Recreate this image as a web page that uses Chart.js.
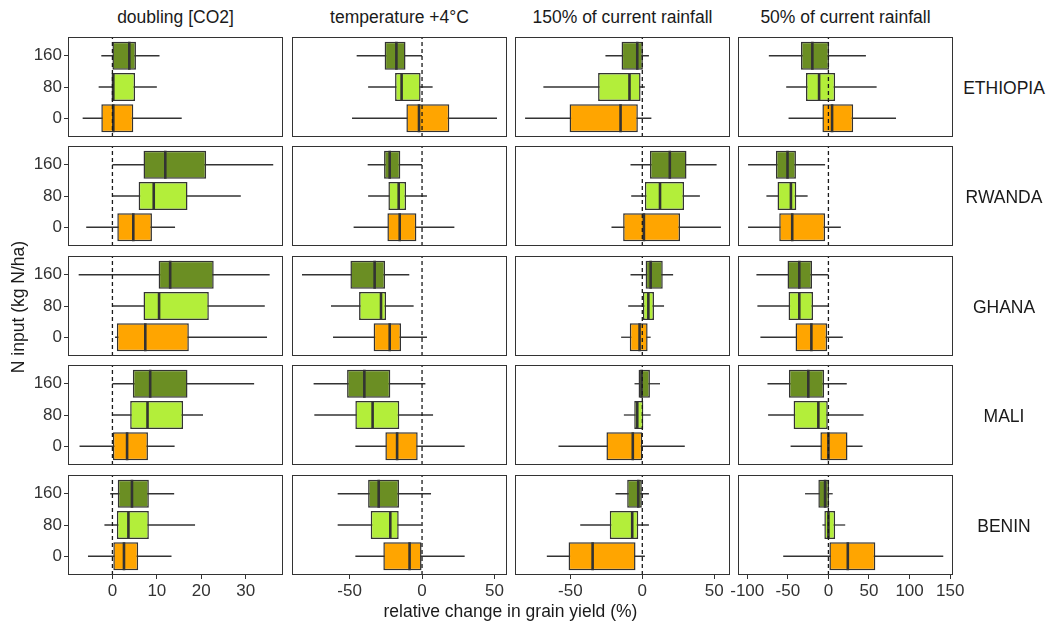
<!DOCTYPE html>
<html>
<head>
<meta charset="utf-8">
<script src="https://cdn.jsdelivr.net/npm/chart.js"></script>
<style>
  body { margin: 0; background: #fff; }
  #wrap { position: relative; width: 1050px; height: 627px; overflow: hidden;
          font-family: "Liberation Sans", Arial, sans-serif; color: #1a1a1a; }
  canvas { position: absolute; }
  .lbl { position: absolute; font-size: 17.5px; line-height: 20px; white-space: nowrap; text-align: center; }
</style>
</head>
<body>
<div id="wrap"></div>
<script>
// facets
const scenarios = ['doubling [CO2]', 'temperature +4°C', '150% of current rainfall', '50% of current rainfall'];
const countries = ['ETHIOPIA', 'RWANDA', 'GHANA', 'MALI', 'BENIN'];
const nLevels = ['0', '80', '160'];
const nColors = ['#FFA500', '#B3EE3A', '#6B8E23'];

// x ticks and limits per scenario column
const xTicks = [[0, 10, 20, 30], [-50, 0, 50], [-50, 0, 50], [-100, -50, 0, 50, 100, 150]];
const xLimits = [[-10, 38.4], [-89.7, 58.6], [-88.4, 60.9], [-111.4, 153.5]];

// box stats [whiskerLow, q1, median, q3, whiskerHigh], per scenario, rows for N = 0, 80, 160
const ethiopia = [
  [[-6.7, -2.5, 0.2, 4.7, 15.6], [-3.1, -0.2, 0.2, 5.1, 10], [-2.5, 0, 3.8, 5.3, 10.6]],
  [[-48.3, -10.8, -2.1, 18.8, 51.7], [-37.2, -18.6, -14.1, -1, 7.3], [-45.1, -25.8, -17.7, -11.4, 0]],
  [[-81.4, -50.5, -15.1, -3.1, 6.3], [-68.7, -30.7, -8.9, -1.2, 1.8], [-25.6, -14.4, -3.5, 0.4, 4.6]],
  [[-49.1, -7.4, 4.5, 30.5, 83.3], [-52, -27.6, -11.5, 8.3, 59.4], [-73.4, -33.8, -19.8, 0.8, 46.2]]
];
const rwanda = [
  [[-5.9, 1.1, 4.7, 8.9, 14.1], [0, 5.9, 9.3, 16.9, 28.9], [0, 7, 11.9, 21.1, 36.2]],
  [[-47.2, -23.9, -15.4, -3.9, 22.3], [-37.2, -23.2, -16.1, -11, 3.4], [-37.5, -26.2, -22.3, -15, 0]],
  [[-21.4, -13.3, 1.1, 26.2, 54.6], [-7.7, 1.8, 12.3, 29, 40], [-8.2, 5.3, 19.1, 30.7, 51.6]],
  [[-99, -60.6, -44.6, -4.1, 15.3], [-76.4, -62.7, -46.2, -39.6, -25.6], [-99, -64.7, -50.4, -40, -4.1]]
];
const ghana = [
  [[0.6, 1, 7.4, 17.2, 34.8], [0, 7, 10.5, 21.7, 34.3], [-7.6, 10.4, 13, 22.8, 35.4]],
  [[-61.4, -33.4, -22.3, -14.5, 3.4], [-62.8, -43.4, -28.3, -24.8, -5.8], [-82.8, -49.4, -32.7, -25.5, -8.8]],
  [[-14.7, -8.7, -1.9, 3.7, 5.8], [-9.8, 0.4, 4.2, 8.1, 15.1], [-8.2, 2.3, 5.8, 14.2, 21.4]],
  [[-83.8, -40.5, -21, -1.6, 17.7], [-87.5, -49.1, -35.9, -19, 0], [-88.7, -50.4, -35.9, -20.2, 0]]
];
const mali = [
  [[-7.4, 0.1, 3.3, 8, 14], [0, 4, 7.9, 15.9, 20.4], [0, 4.6, 8.5, 16.9, 31.9]],
  [[-46, -25.3, -17.2, -3, 29.4], [-74.3, -46, -34.1, -15.7, 7.6], [-74.8, -51.7, -39.8, -21.9, 2.3]],
  [[-58.2, -24.9, -6.6, 0, 29.5], [-12.8, -5.6, -3.5, 0.7, 5.8], [-5.4, -2.6, -0.5, 5.3, 12.3]],
  [[-46.6, -9.9, 0, 23.5, 42.1], [-74.3, -42.9, -12.4, -0.8, 43.3], [-75.1, -48.7, -24.8, -5.3, 22.6]]
];
const benin = [
  [[-5.5, 0.2, 2.6, 5.8, 13.3], [-1.8, 1, 3.6, 8.2, 18.6], [-0.5, 1.2, 4.4, 8.2, 13.9]],
  [[-46, -26.7, -8.6, 0, 29.4], [-58.2, -35.4, -21.9, -16.1, 0], [-58.2, -37.2, -29.9, -15.9, 6.2]],
  [[-66.3, -51.2, -34.5, -4.7, 1.8], [-43.1, -22.6, -7, -2.8, 4.6], [-18.6, -10.5, -2.8, 0, 4.6]],
  [[-55.7, 1.2, 23.9, 57.8, 141.5], [-7.4, -5, 0, 8.3, 20.7], [-28.8, -12.4, -4.1, 0.8, 5.3]]
];
const stats = [ethiopia, rwanda, ghana, mali, benin];

// layout
const panelLeft = [68, 292, 515, 738];
const panelTop = [37, 146, 256, 365, 475];
const panelW = 215, panelH = 100;
const yAxisW = 68, xAxisH = 32, padX = 16;
const tickFont = { family: '"Liberation Sans", Arial, sans-serif', size: 17 };

const wrap = document.getElementById('wrap');

const panelBorder = {
  id: 'panelBorder',
  afterDatasetsDraw(chart) {
    const { ctx, chartArea: a } = chart;
    ctx.save();
    ctx.strokeStyle = '#333';
    ctx.lineWidth = 1;
    ctx.strokeRect(a.left + 0.5, a.top + 0.5, a.right - a.left - 1, a.bottom - a.top - 1);
    ctx.restore();
  }
};

function addLabel(text, left, top, width, extra) {
  const d = document.createElement('div');
  d.className = 'lbl';
  d.textContent = text;
  d.style.left = left + 'px';
  d.style.top = top + 'px';
  d.style.width = width + 'px';
  if (extra) Object.assign(d.style, extra);
  wrap.appendChild(d);
}

function makePanel(r, c) {
  const bottom = r === countries.length - 1;
  const first = c === 0;
  const padL = first ? 0 : (bottom ? padX : 0);
  const padR = bottom ? padX : 0;
  const w = panelW + (first ? yAxisW : padL) + padR;
  const h = panelH + (bottom ? xAxisH : 0);

  const canvas = document.createElement('canvas');
  canvas.width = w;
  canvas.height = h;
  canvas.style.width = w + 'px';
  canvas.style.height = h + 'px';
  canvas.style.left = (panelLeft[c] - (first ? yAxisW : padL)) + 'px';
  canvas.style.top = panelTop[r] + 'px';
  wrap.appendChild(canvas);

  const s = stats[r][c];

  new Chart(canvas.getContext('2d'), {
    type: 'bar',
    data: {
      datasets: [
        {
          type: 'line',
          data: [{ x: 0, y: -0.6 }, { x: 0, y: 2.6 }],
          borderColor: '#1a1a1a',
          borderWidth: 1.3,
          borderDash: [4, 3],
          pointRadius: 0,
          order: 0
        },
        {
          type: 'line',
          showLine: false,
          data: s.map((b, i) => ({ x: b[2], y: i })),
          pointStyle: 'line',
          pointRotation: 90,
          pointRadius: 14,
          pointBorderWidth: 2.6,
          pointBorderColor: '#333',
          order: 1
        },
        {
          type: 'bar',
          data: s.map((b, i) => ({ x: [b[1], b[3]], y: i })),
          backgroundColor: nColors,
          borderColor: '#333',
          borderWidth: 1.5,
          borderSkipped: false,
          grouped: false,
          categoryPercentage: 1,
          barPercentage: 0.9,
          order: 2
        },
        {
          type: 'bar',
          data: s.map((b, i) => ({ x: [b[0], b[4]], y: i })),
          backgroundColor: '#333',
          borderWidth: 0,
          grouped: false,
          maxBarThickness: 1.3,
          order: 3
        }
      ]
    },
    options: {
      indexAxis: 'y',
      responsive: false,
      animation: false,
      events: [],
      layout: { autoPadding: false, padding: { left: padL, right: padR, top: 0, bottom: 0 } },
      plugins: { legend: { display: false }, tooltip: { enabled: false } },
      scales: {
        x: {
          type: 'linear',
          min: xLimits[c][0],
          max: xLimits[c][1],
          offset: false,
          display: bottom,
          afterBuildTicks: sc => { sc.ticks = xTicks[c].map(v => ({ value: v })); },
          afterFit: sc => {
            sc.height = bottom ? xAxisH : 0;
            sc.paddingLeft = 0;
            sc.paddingRight = 0;
          },
          grid: { offset: false, drawOnChartArea: false, drawTicks: true, tickLength: 4, color: '#333' },
          border: { display: false },
          ticks: { font: tickFont, color: '#333', padding: 2, maxRotation: 0, autoSkip: false }
        },
        y: {
          type: 'linear',
          min: -0.6,
          max: 2.6,
          offset: false,
          display: first,
          afterBuildTicks: sc => { sc.ticks = nLevels.map((l, i) => ({ value: i })); },
          afterFit: sc => {
            sc.width = first ? yAxisW : 0;
            sc.paddingTop = 0;
            sc.paddingBottom = 0;
          },
          grid: { offset: false, drawOnChartArea: false, drawTicks: true, tickLength: 4, color: '#333' },
          border: { display: false },
          ticks: { font: tickFont, color: '#333', padding: 2, autoSkip: false, callback: v => nLevels[v] }
        }
      }
    },
    plugins: [panelBorder]
  });
}

for (let r = 0; r < countries.length; r++) {
  for (let c = 0; c < scenarios.length; c++) {
    makePanel(r, c);
  }
}

scenarios.forEach((t, c) => addLabel(t, panelLeft[c], 7, panelW));
countries.forEach((t, r) => addLabel(t, 958, panelTop[r] + 41, 92));
addLabel('relative change in grain yield (%)', panelLeft[0], 601, panelLeft[3] + panelW - panelLeft[0]);
addLabel('N input (kg N/ha)', -131.6, 296.5, 300, { height: '20px', transform: 'rotate(-90deg)' });
</script>
</body>
</html>
